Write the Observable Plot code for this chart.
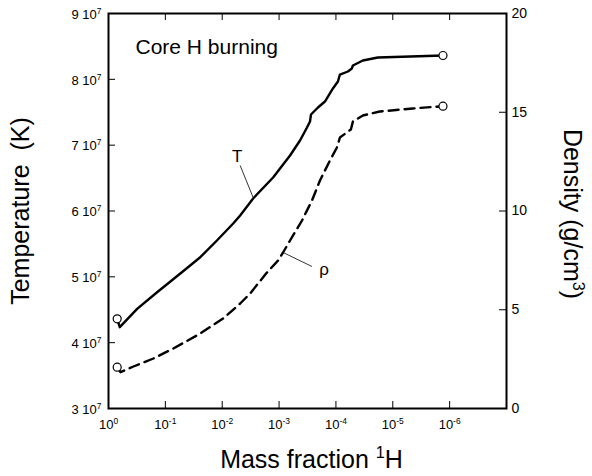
<!DOCTYPE html>
<html><head><meta charset="utf-8">
<script src="https://cdn.jsdelivr.net/npm/d3@7"></script>
<script src="https://cdn.jsdelivr.net/npm/@observablehq/plot@0.6"></script>
<style>body{margin:0;background:#fff;}</style>
</head><body><div id="chart"></div>
<script>
// ---- data ----
const tMass = [0.7035, 0.6336, 0.3136, 0.1398, 0.05455, 0.02432, 0.01239, 0.006412, 0.004833, 0.002858,
  0.001274, 6.412e-4, 4.281e-4, 3.228e-4, 2.858e-4, 2.745e-4, 2.069e-4, 1.560e-4, 1.129e-4, 9.225e-5,
  8.508e-5, 6.159e-5, 5.241e-5, 5.031e-5, 3.360e-5, 1.833e-5, 1.310e-6];
const tTemp = [4.362e7, 4.235e7, 4.514e7, 4.766e7, 5.050e7, 5.298e7, 5.552e7, 5.810e7, 5.932e7, 6.190e7,
  6.509e7, 6.843e7, 7.071e7, 7.269e7, 7.360e7, 7.466e7, 7.572e7, 7.663e7, 7.861e7, 7.967e7,
  8.073e7, 8.119e7, 8.165e7, 8.210e7, 8.286e7, 8.332e7, 8.362e7];
const rhoMass = [0.7035, 0.6158, 0.3641, 0.1624, 0.07240, 0.02432, 0.009605, 0.004833, 0.003227, 0.001691,
  0.001041, 8.508e-4, 6.412e-4, 3.949e-4, 2.637e-4, 1.909e-4, 1.274e-4, 9.605e-5, 8.508e-5, 5.455e-5,
  5.031e-5, 3.360e-5, 1.691e-5, 4.457e-6, 1.310e-6];
const rhoDens = [2.091, 1.838, 2.127, 2.532, 3.038, 3.797, 4.557, 5.316, 5.823, 6.835,
  7.494, 7.899, 8.506, 9.519, 10.532, 11.544, 12.557, 13.215, 13.722, 14.127,
  14.532, 14.835, 15.038, 15.190, 15.306];

const xDomain = [1, 1e-7];
const tDomain = [3e7, 9e7];
const dDomain = [0, 20];
const xTicks = [1, 1e-1, 1e-2, 1e-3, 1e-4, 1e-5, 1e-6];
const xTickLabels = ["10^{0}", "10^{-1}", "10^{-2}", "10^{-3}", "10^{-4}", "10^{-5}", "10^{-6}"];
const tTicks = [3e7, 4e7, 5e7, 6e7, 7e7, 8e7, 9e7];
const tTickLabels = ["3 10^{7}", "4 10^{7}", "5 10^{7}", "6 10^{7}", "7 10^{7}", "8 10^{7}", "9 10^{7}"];
const dTicks = [0, 5, 10, 15, 20];
const dTickLabels = ["0", "5", "10", "15", "20"];

const panelLabel = "Core H burning";
const xTitle = "Mass fraction ^{1}H";
const yTitle = "Temperature  (K)";
const y2Title = "Density (g/cm^{3})";
// curve labels with leader lines (data coordinates)
const tLabel = {text: "T", m: 5.46e-3, t: 6.737e7, m1: 4.83e-3, t1: 6.691e7, m2: 2.86e-3, t2: 6.205e7};
const rLabel = {text: "ρ", m: 1.62e-4, d: 6.78, m1: 8.5e-4, d1: 7.90, m2: 2.64e-4, d2: 7.19};

// ---- build ----
const toT = d => tDomain[0] + (d - dDomain[0]) * (tDomain[1] - tDomain[0]) / (dDomain[1] - dDomain[0]);
const T = tMass.map((m, i) => ({m, v: tTemp[i]}));
const R = rhoMass.map((m, i) => ({m, v: toT(rhoDens[i])}));
const ends = [T[0], T[T.length - 1], R[0], R[R.length - 1]];

const W = 592, H = 476, mL = 108, mR = 86, mT = 13, mB = 68;
const innerW = W - mL - mR, innerH = H - mT - mB;
const tick = 7;
const font = "Liberation Sans, Arial, Helvetica, sans-serif";

const plot = Plot.plot({
  width: W, height: H,
  marginLeft: mL, marginRight: mR, marginTop: mT, marginBottom: mB,
  style: {fontFamily: font, background: "white", color: "black"},
  x: {type: "log", domain: xDomain, axis: null},
  y: {domain: tDomain, axis: null},
  marks: [
    Plot.tickX(xTicks, {x: d => d, insetTop: innerH - tick, stroke: "black", strokeWidth: 1}),
    Plot.tickX(xTicks, {x: d => d, insetBottom: innerH - tick, stroke: "black", strokeWidth: 1}),
    Plot.tickY(tTicks, {y: d => d, insetRight: innerW - tick, stroke: "black", strokeWidth: 1}),
    Plot.tickY(dTicks, {y: toT, insetLeft: innerW - tick, stroke: "black", strokeWidth: 1}),
    Plot.line(T, {x: "m", y: "v", stroke: "black", strokeWidth: 2.4, strokeLinejoin: "round"}),
    Plot.line(R, {x: "m", y: "v", stroke: "black", strokeWidth: 2.4, strokeDasharray: "10,6"}),
    Plot.dot(ends, {x: "m", y: "v", r: 4, stroke: "black", fill: "white", strokeWidth: 1.2}),
    Plot.link([tLabel], {x1: "m1", y1: "t1", x2: "m2", y2: "t2", stroke: "black", strokeWidth: 0.8}),
    Plot.link([rLabel], {x1: "m1", y1: d => toT(d.d1), x2: "m2", y2: d => toT(d.d2), stroke: "black", strokeWidth: 0.8}),
    Plot.text([tLabel], {x: "m", y: "t", text: "text", fontSize: 17, lineAnchor: "bottom", textAnchor: "middle"}),
    Plot.text([rLabel], {x: "m", y: d => toT(d.d), text: "text", fontSize: 17, lineAnchor: "bottom", textAnchor: "middle"}),
    Plot.text(xTicks, {x: d => d, text: (d, i) => xTickLabels[i], frameAnchor: "bottom", dy: 20, lineAnchor: "bottom", textAnchor: "middle", fontSize: 13}),
    Plot.text(tTicks, {y: d => d, text: (d, i) => tTickLabels[i], frameAnchor: "left", dx: -7, dy: 1, textAnchor: "end", lineAnchor: "middle", fontSize: 13}),
    Plot.text(dTicks, {y: toT, text: (d, i) => dTickLabels[i], frameAnchor: "right", dx: 5, textAnchor: "start", lineAnchor: "middle", fontSize: 14}),
    Plot.text([panelLabel], {text: d => d, frameAnchor: "top-left", dx: 27, dy: 40, textAnchor: "start", lineAnchor: "bottom", fontSize: 21}),
    Plot.text([xTitle], {text: d => d, frameAnchor: "bottom", dx: 4, dy: 59, textAnchor: "middle", lineAnchor: "bottom", fontSize: 25}),
    Plot.text([yTitle], {text: d => d, frameAnchor: "left", dx: -80, textAnchor: "middle", lineAnchor: "bottom", rotate: -90, fontSize: 25}),
    Plot.text([y2Title], {text: d => d, frameAnchor: "right", dx: 57, dy: 3, textAnchor: "middle", lineAnchor: "bottom", rotate: 90, fontSize: 25}),
    Plot.frame({stroke: "black", strokeWidth: 2})
  ]
});
document.getElementById("chart").appendChild(plot);

// superscripts: "^{...}" -> raised tspan
d3.select(plot).selectAll("text").each(function () {
  const el = this;
  const s = el.textContent;
  if (!s.includes("^{")) return;
  const fs = parseFloat(getComputedStyle(el).fontSize) || 13;
  const parts = s.split(/(\^\{[^}]*\})/);
  while (el.firstChild) el.removeChild(el.firstChild);
  let raised = false;
  for (const p of parts) {
    if (!p) continue;
    const t = document.createElementNS("http://www.w3.org/2000/svg", "tspan");
    if (p.startsWith("^{")) {
      t.textContent = p.slice(2, -1);
      t.setAttribute("font-size", fs * 0.65);
      t.setAttribute("dy", -fs * 0.38);
      raised = true;
    } else {
      t.textContent = p;
      if (raised) { t.setAttribute("dy", fs * 0.38); raised = false; }
    }
    el.appendChild(t);
  }
});
</script>
</body></html>
